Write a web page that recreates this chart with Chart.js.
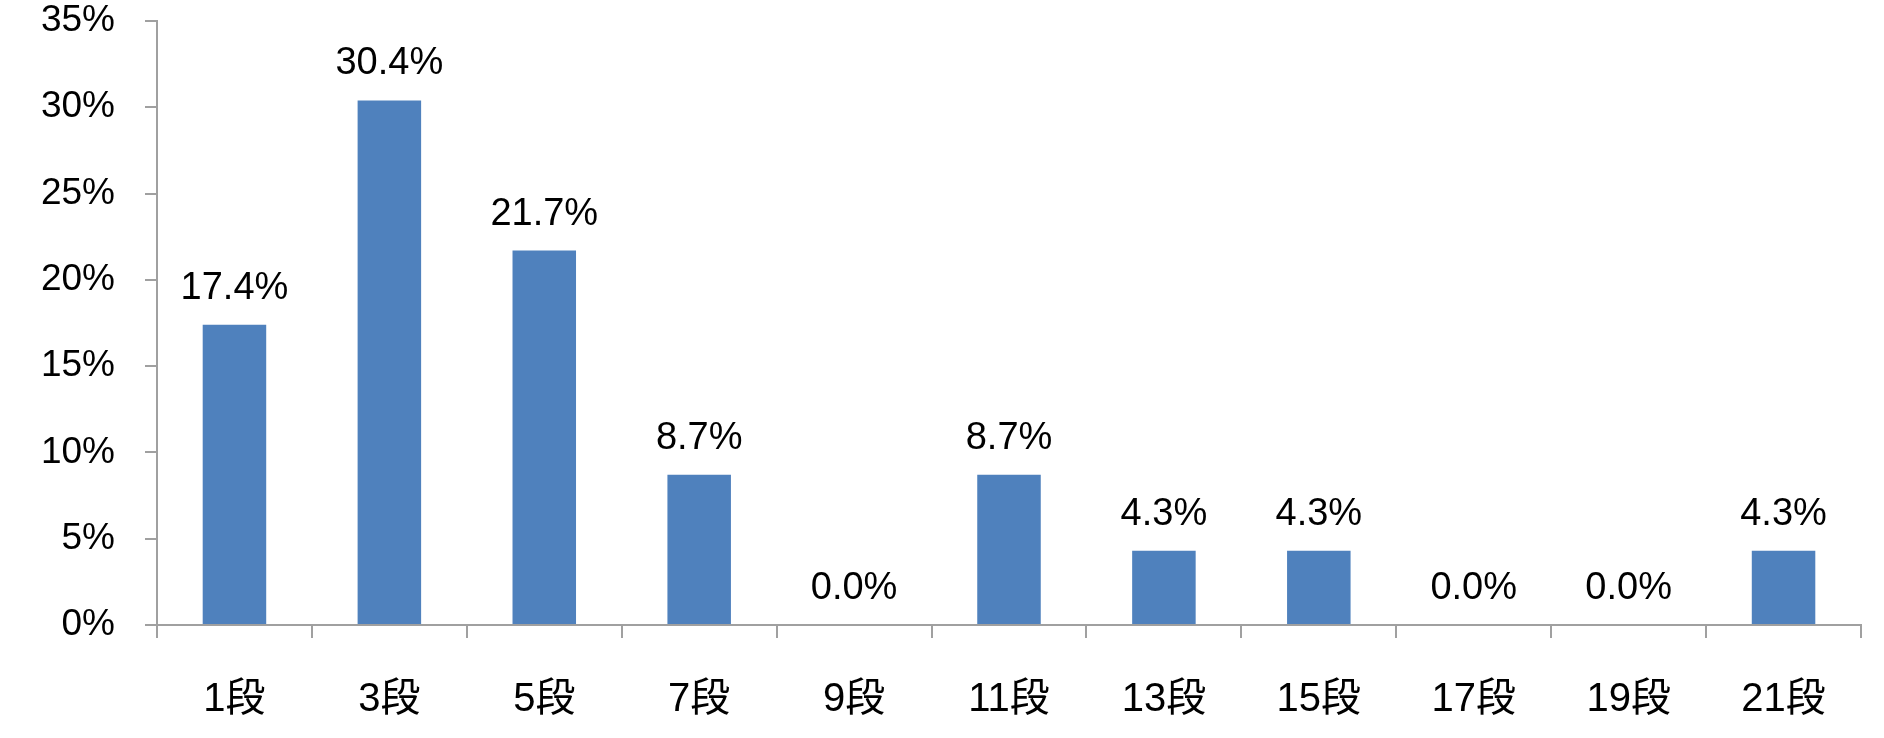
<!DOCTYPE html>
<html>
<head>
<meta charset="utf-8">
<script src="https://cdn.jsdelivr.net/npm/chart.js@4/dist/chart.umd.min.js"></script>
<style>
  html, body { margin: 0; padding: 0; background: #fff; }
  #wrap { width: 1884px; height: 738px; position: relative; }
</style>
</head>
<body>
<div id="wrap"><canvas id="chart"></canvas></div>
<script>
// categories and values
const categories = ['1段', '3段', '5段', '7段', '9段', '11段', '13段', '15段', '17段', '19段', '21段'];
const shares = [17.4, 30.4, 21.7, 8.7, 0.0, 8.7, 4.3, 4.3, 0.0, 0.0, 4.3];
const yTicks = [0, 5, 10, 15, 20, 25, 30, 35];

const FONT = "'Liberation Sans', 'Noto Sans CJK JP', sans-serif";
const AXIS_GREY = '#a0a0a0';

// value labels above each bar
const barLabels = {
  id: 'barLabels',
  afterDatasetsDraw(chart) {
    const ctx = chart.ctx;
    const meta = chart.getDatasetMeta(0);
    ctx.save();
    ctx.font = '38px ' + FONT;
    ctx.fillStyle = '#000';
    ctx.textAlign = 'center';
    ctx.textBaseline = 'alphabetic';
    meta.data.forEach(function(bar, i) {
      ctx.fillText(shares[i].toFixed(1) + '%', bar.x, bar.y - 26);
    });
    ctx.restore();
  }
};

new Chart(document.getElementById('chart'), {
  type: 'bar',
  data: {
    labels: categories,
    datasets: [{
      data: shares,
      backgroundColor: '#4f81bd',
      borderWidth: 0,
      barPercentage: 0.82,
      categoryPercentage: 0.5
    }]
  },
  options: {
    responsive: true,
    maintainAspectRatio: false,
    animation: false,
    layout: { padding: { top: 21, right: 23, left: 0, bottom: 0 } },
    plugins: {
      legend: { display: false },
      tooltip: { enabled: false }
    },
    scales: {
      x: {
        grid: {
          offset: true,
          drawOnChartArea: false,
          drawTicks: true,
          tickLength: 13,
          color: AXIS_GREY,
          lineWidth: 2
        },
        border: { color: AXIS_GREY, width: 2 },
        ticks: {
          color: '#000',
          font: { family: FONT, size: 40 },
          padding: 38,
          maxRotation: 0
        },
        afterFit(scale) {
          scale.height = 113;
          scale.paddingLeft = 0;
          scale.paddingRight = 0;
        }
      },
      y: {
        min: 0,
        max: 35,
        afterBuildTicks(scale) {
          scale.ticks = yTicks.map(v => ({ value: v }));
        },
        grid: {
          drawOnChartArea: false,
          drawTicks: true,
          tickLength: 12,
          color: AXIS_GREY,
          lineWidth: 2
        },
        border: { color: AXIS_GREY, width: 2 },
        ticks: {
          color: '#000',
          font: { family: FONT, size: 37 },
          padding: 30,
          callback: v => v + '%'
        },
        afterFit(scale) {
          scale.width = 157;
          scale.paddingTop = 0;
          scale.paddingBottom = 0;
        }
      }
    }
  },
  plugins: [barLabels]
});
</script>
</body>
</html>
